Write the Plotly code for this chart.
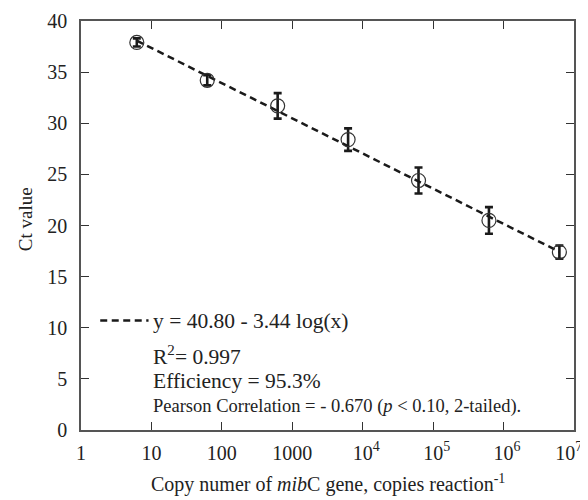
import numpy as np
import plotly.graph_objects as go

# Data
copies = [6.2, 62, 620, 6200, 62000, 620000, 6200000]
ct_mean = [37.9, 34.2, 31.7, 28.4, 24.4, 20.5, 17.4]
ct_err = [0.4, 0.5, 1.25, 1.1, 1.27, 1.3, 0.65]
fit_intercept = 40.80
fit_slope = -3.44

x_tickvals = [1, 10, 100, 1000, 1e4, 1e5, 1e6, 1e7]
x_ticktext = ["1", "10", "100", "1000",
              "<sup>&nbsp;&nbsp;</sup>10<sup>4</sup>", "<sup>&nbsp;&nbsp;</sup>10<sup>5</sup>",
              "<sup>&nbsp;&nbsp;</sup>10<sup>6</sup>", "10<sup>7&nbsp;&nbsp;&nbsp;</sup>"]
y_tickvals = [0, 5, 10, 15, 20, 25, 30, 35, 40]

FONT = "Liberation Serif, Times New Roman, serif"

fit_x = [copies[0], copies[-1]]
fit_y = [fit_intercept + fit_slope * np.log10(v) for v in fit_x]

fig = go.Figure()
fig.add_trace(go.Scatter(
    x=fit_x, y=fit_y, mode="lines",
    line=dict(color="#1a1a1a", width=2.5, dash="7px,4.5px"),
    showlegend=False, hoverinfo="skip"))
fig.add_trace(go.Scatter(
    x=copies, y=ct_mean, mode="markers",
    marker=dict(symbol="circle-open", size=14, color="#333333", line=dict(width=1.2, color="#333333")),
    error_y=dict(type="data", array=ct_err, visible=True, color="#1a1a1a", thickness=2.6, width=4),
    showlegend=False))

axis_common = dict(
    showline=True, linecolor="#555555", linewidth=1.5, mirror="ticks",
    ticks="inside", ticklen=8, tickwidth=1.2, tickcolor="#333333",
    showgrid=False, zeroline=False, automargin=False,
    tickfont=dict(family=FONT, size=20, color="#222222"),
)

fig.update_xaxes(type="log", range=[0, 7], tickvals=x_tickvals, ticktext=x_ticktext,
                 ticklabelstandoff=4, ticklabeloverflow="allow", **axis_common)
fig.update_yaxes(range=[0, 40], tickvals=y_tickvals, ticklabelstandoff=8, **axis_common)

# legend-like dashed sample
fig.add_shape(type="line", xref="paper", yref="paper", x0=0.039, x1=0.137, y0=0.268, y1=0.268,
              line=dict(color="#1a1a1a", width=2.5, dash="7px,4.5px"))

ann_font = dict(family=FONT, size=21.5, color="#222222")
fig.add_annotation(xref="paper", yref="paper", x=0.142, y=0.266, xanchor="left", yanchor="middle",
                   text="y = 40.80 - 3.44 log(x)", showarrow=False, font=ann_font)
fig.add_annotation(xref="paper", yref="paper", x=0.142, y=0.183, xanchor="left", yanchor="middle",
                   text="R<sup>2</sup>= 0.997", showarrow=False, font=ann_font)
fig.add_annotation(xref="paper", yref="paper", x=0.142, y=0.119, xanchor="left", yanchor="middle",
                   text="Efficiency = 95.3%", showarrow=False, font=ann_font)
fig.add_annotation(xref="paper", yref="paper", x=0.142, y=0.058, xanchor="left", yanchor="middle",
                   text="Pearson Correlation = - 0.670 (<i>p</i> &lt; 0.10, 2-tailed).", showarrow=False,
                   font=dict(family=FONT, size=18.5, color="#222222"))

# axis titles
fig.add_annotation(xref="paper", yref="paper", x=0.5, y=-0.13, xanchor="center", yanchor="middle",
                   text="Copy numer of <i>mib</i>C gene, copies reaction<sup>-1</sup>", showarrow=False,
                   font=dict(family=FONT, size=20, color="#222222"))
fig.add_annotation(xref="paper", yref="paper", x=-0.112, y=0.515, xanchor="center", yanchor="middle",
                   text="Ct value", textangle=-90, showarrow=False,
                   font=dict(family=FONT, size=19, color="#222222"))

fig.update_layout(
    width=580, height=492,
    margin=dict(l=73, r=14, t=13, b=69.5),
    paper_bgcolor="white", plot_bgcolor="white",
    font=dict(family=FONT),
)

fig.write_html("out.html")
